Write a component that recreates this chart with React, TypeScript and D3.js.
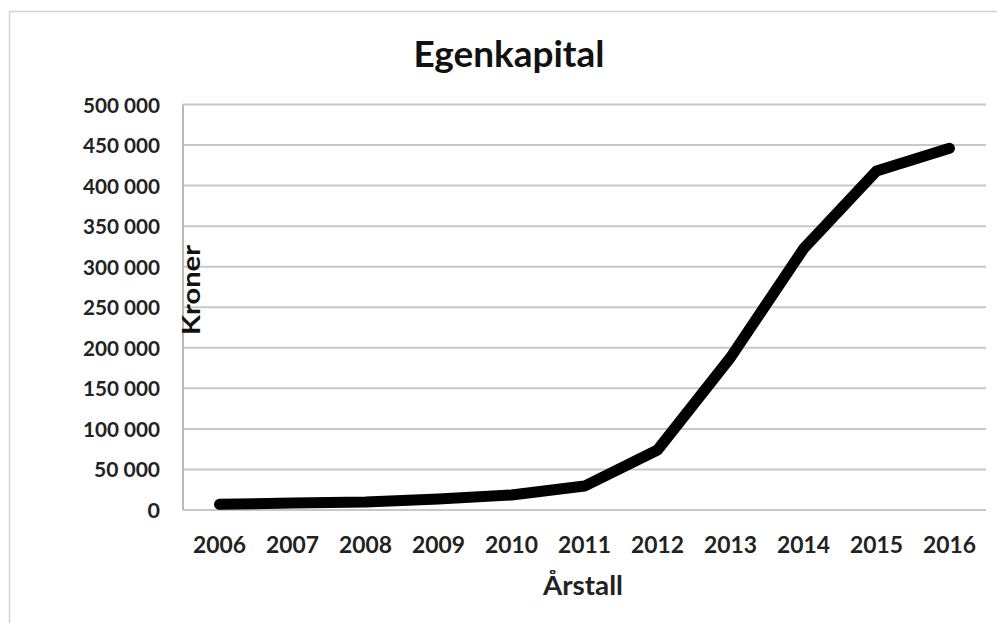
import React from "react";
import * as d3 from "d3";

const years = ["2006", "2007", "2008", "2009", "2010", "2011", "2012", "2013", "2014", "2015", "2016"];
const egenkapital = [7000, 8500, 10000, 13500, 18500, 29500, 74000, 188000, 322000, 418000, 446000];
const yTicks = [0, 50000, 100000, 150000, 200000, 250000, 300000, 350000, 400000, 450000, 500000];

const W = 997;
const H = 623;
const plot = { left: 183, right: 986, top: 104.5, bottom: 510 };
const FONT = "Lato, 'Open Sans', sans-serif";

const fmt = (v: number) => {
  if (v === 0) return "0";
  const s = String(v);
  return s.replace(/\B(?=(\d{3})+(?!\d))/g, " ");
};

export default function App() {
  const x = d3.scaleBand<string>().domain(years).range([plot.left, plot.right]);
  const y = d3.scaleLinear().domain([0, 500000]).range([plot.bottom, plot.top]);
  const line = d3
    .line<number>()
    .x((_, i) => (x(years[i]) as number) + x.bandwidth() / 2)
    .y((d) => y(d));

  return (
    <svg
      width={W}
      height={H}
      style={{ position: "absolute", left: 0, top: 0, background: "#fff" }}
      fontFamily={FONT}
    >
      <rect x={9.5} y={11.5} width={W + 10} height={H + 10} fill="#fff" stroke="#d4d4d4" strokeWidth={1.5} />
      {yTicks.map((t) => (
        <g key={t}>
          <line x1={plot.left} x2={plot.right} y1={y(t)} y2={y(t)} stroke="#c8c8c8" strokeWidth={2} />
          <text
            x={160}
            y={y(t) + 8}
            textAnchor="end"
            fontSize={21.5}
            fontWeight={700}
            fill="#222"
            textLength={t === 0 ? undefined : t >= 100000 ? 77 : 66}
            lengthAdjust="spacingAndGlyphs"
          >
            {fmt(t)}
          </text>
        </g>
      ))}
      <line x1={plot.left} x2={plot.left} y1={plot.top} y2={plot.bottom} stroke="#b8b8b8" strokeWidth={2} />
      {years.map((yr) => (
        <text
          key={yr}
          x={(x(yr) as number) + x.bandwidth() / 2}
          y={553}
          textAnchor="middle"
          fontSize={22}
          fontWeight={700}
          fill="#222"
          textLength={53}
          lengthAdjust="spacingAndGlyphs"
        >
          {yr}
        </text>
      ))}
      <path d={line(egenkapital) || ""} fill="none" stroke="#000" strokeWidth={11} strokeLinejoin="round" strokeLinecap="round" />
      <text x={509} y={67} textAnchor="middle" fontSize={36} fontWeight={700} fill="#111" textLength={191} lengthAdjust="spacingAndGlyphs">
        Egenkapital
      </text>
      <text x={583} y={595} textAnchor="middle" fontSize={27} fontWeight={700} fill="#222" textLength={80} lengthAdjust="spacingAndGlyphs">
        Årstall
      </text>
      <text
        transform={`translate(200, 290) rotate(-90)`}
        textAnchor="middle"
        fontSize={24}
        fontWeight={700}
        fill="#111"
        textLength={90}
        lengthAdjust="spacingAndGlyphs"
      >
        Kroner
      </text>
    </svg>
  );
}
